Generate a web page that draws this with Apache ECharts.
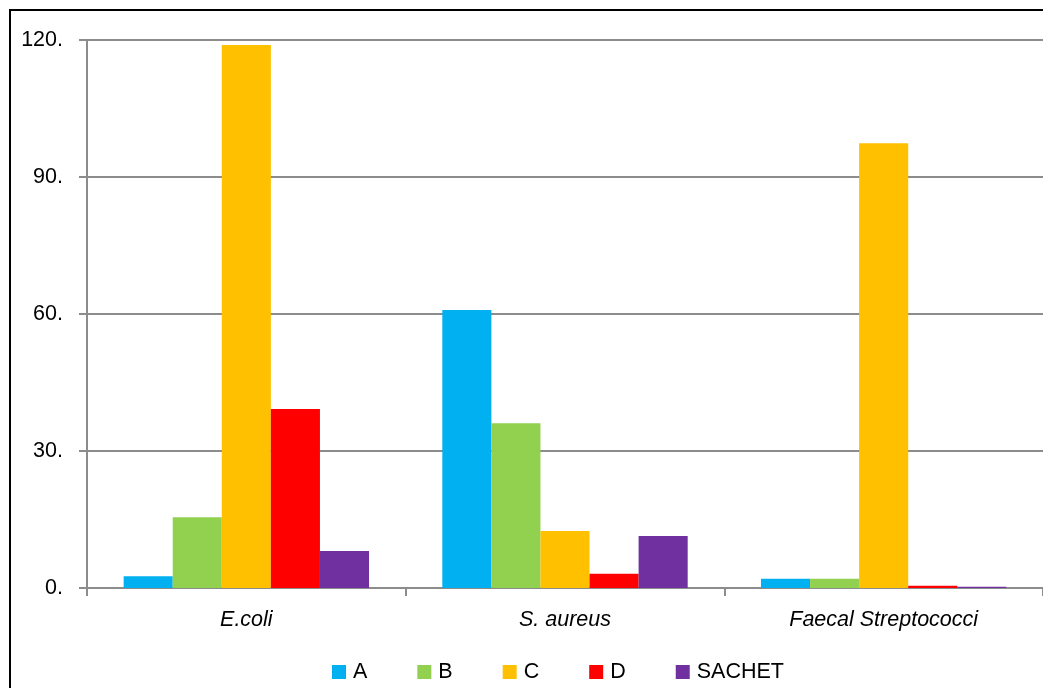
<!DOCTYPE html>
<html>
<head>
<meta charset="utf-8">
<script src="https://cdn.jsdelivr.net/npm/echarts@6/dist/echarts.min.js"></script>
<style>
  html, body { margin: 0; padding: 0; background: #fff; }
  #chart { width: 1043px; height: 688px; }
</style>
</head>
<body>
<div id="chart"></div>
<script>
// Bacterial counts per organism for each sample
const categories = ['E.coli', 'S. aureus', 'Faecal Streptococci'];
const seriesNames = ['A', 'B', 'C', 'D', 'SACHET'];
const seriesA = [2.6, 60.9, 2.0];
const seriesB = [15.5, 36.1, 2.0];
const seriesC = [118.9, 12.5, 97.4];
const seriesD = [39.2, 3.1, 0.5];
const seriesSachet = [8.1, 11.4, 0.3];
const yTicks = [0, 30, 60, 90, 120];

const colors = ['#00B0F0', '#92D050', '#FFC000', '#FF0000', '#7030A0'];
const values = [seriesA, seriesB, seriesC, seriesD, seriesSachet];
const font = '"Liberation Sans", Arial, sans-serif';
const fs = 21.5;

const chart = echarts.init(document.getElementById('chart'));
chart.setOption({
  animation: false,
  textStyle: { fontFamily: font },
  graphic: [{
    type: 'rect',
    shape: { x: 10, y: 10, width: 1200, height: 900 },
    style: { fill: 'none', stroke: '#000', lineWidth: 2 },
    silent: true,
    z: 100
  }],
  grid: { left: 87, right: -2, top: 40, bottom: 100, containLabel: false },
  legend: {
    top: 656,
    left: 327,
    itemWidth: 14,
    itemHeight: 14,
    itemGap: 50,
    icon: 'rect',
    textStyle: { fontSize: fs, color: '#000', fontFamily: font, padding: [0, 0, 0, 2] },
    data: seriesNames
  },
  xAxis: {
    type: 'category',
    data: categories,
    axisLine: { lineStyle: { color: '#8c8c8c', width: 2 } },
    axisTick: { show: true, length: 8, lineStyle: { color: '#8c8c8c', width: 2 } },
    axisLabel: { fontSize: fs, fontStyle: 'italic', color: '#000', margin: 21, fontFamily: font }
  },
  yAxis: {
    type: 'value',
    min: yTicks[0],
    max: yTicks[yTicks.length - 1],
    interval: 30,
    axisLine: { show: true, lineStyle: { color: '#8c8c8c', width: 2 } },
    axisTick: { show: true, length: 8, lineStyle: { color: '#8c8c8c', width: 2 } },
    splitLine: { lineStyle: { color: '#8c8c8c', width: 2 } },
    axisLabel: { fontSize: fs, color: '#000', margin: 24, fontFamily: font, formatter: v => v + '.' }
  },
  series: seriesNames.map((name, i) => ({
    name: name,
    type: 'bar',
    data: values[i],
    itemStyle: { color: colors[i] },
    barGap: '0%',
    barCategoryGap: '23%'
  }))
});
</script>
</body>
</html>
